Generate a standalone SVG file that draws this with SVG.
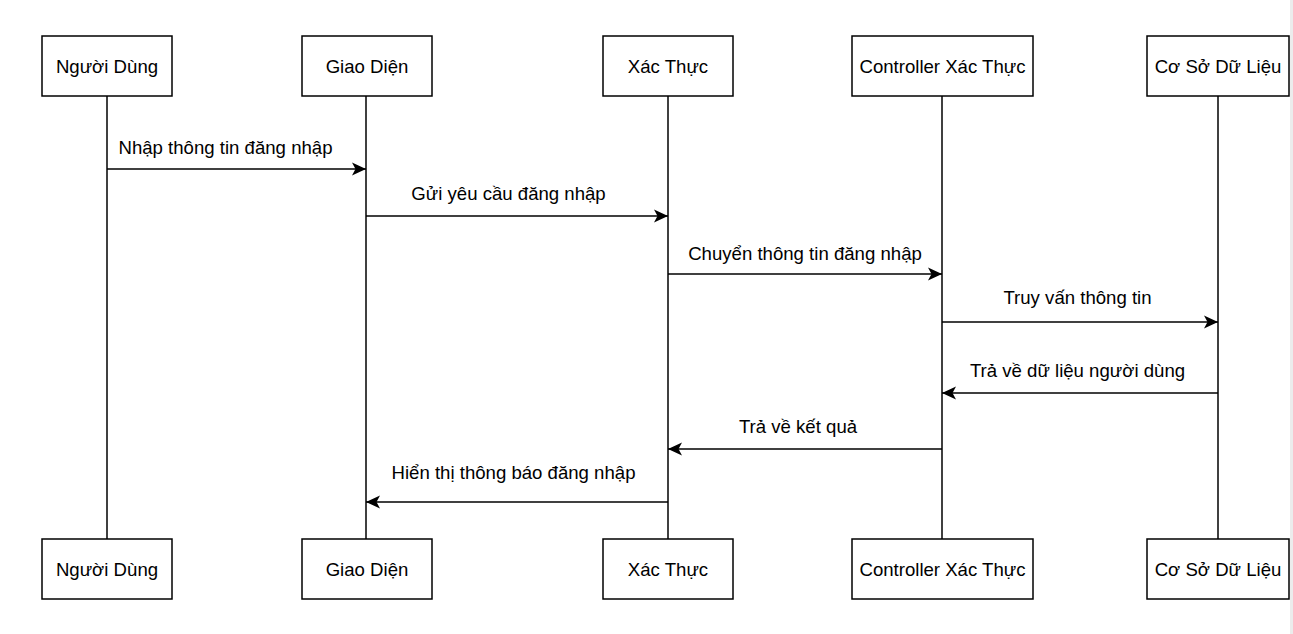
<svg xmlns="http://www.w3.org/2000/svg" width="1293" height="634" viewBox="0 0 1293 634">
<style>
.box{fill:#fff;stroke:#000;stroke-width:1.5}
.life{stroke:#000;stroke-width:1.5;fill:none}
.msg{stroke:#000;stroke-width:1.5;fill:none}
.t{font-family:"Liberation Sans",Arial,sans-serif;font-size:18.6px;fill:#000;text-anchor:middle}
</style>
<defs>
<marker id="ah" markerUnits="userSpaceOnUse" markerWidth="16" markerHeight="14" viewBox="-15 -7 16 14" refX="0" refY="0" orient="auto">
<path d="M0,0 L-14,-6.5 L-10.5,0 L-14,6.5 Z" fill="#000"/>
</marker>
</defs>
<rect x="0" y="0" width="1293" height="634" fill="#fff"/>
<rect x="1290" y="0" width="3" height="634" fill="#ececec"/>
<g id="lifelines">
<line class="life" x1="107" y1="96" x2="107" y2="539"/>
<line class="life" x1="366" y1="96" x2="366" y2="539"/>
<line class="life" x1="668" y1="96" x2="668" y2="539"/>
<line class="life" x1="942" y1="96" x2="942" y2="539"/>
<line class="life" x1="1218" y1="96" x2="1218" y2="539"/>
</g>
<g id="nguoidung">
<rect class="box" x="42" y="36" width="130" height="60"/>
<text class="t" x="107" y="73">Người Dùng</text>
<rect class="box" x="42" y="539" width="130" height="60"/>
<text class="t" x="107" y="576">Người Dùng</text>
</g>
<g id="giaodien">
<rect class="box" x="302" y="36" width="130" height="60"/>
<text class="t" x="367" y="73">Giao Diện</text>
<rect class="box" x="302" y="539" width="130" height="60"/>
<text class="t" x="367" y="576">Giao Diện</text>
</g>
<g id="xacthuc">
<rect class="box" x="603" y="36" width="130" height="60"/>
<text class="t" x="668" y="73">Xác Thực</text>
<rect class="box" x="603" y="539" width="130" height="60"/>
<text class="t" x="668" y="576">Xác Thực</text>
</g>
<g id="controller">
<rect class="box" x="852" y="36" width="181" height="60"/>
<text class="t" x="942.5" y="73">Controller Xác Thực</text>
<rect class="box" x="852" y="539" width="181" height="60"/>
<text class="t" x="942.5" y="576">Controller Xác Thực</text>
</g>
<g id="csdl">
<rect class="box" x="1147" y="36" width="142" height="60"/>
<text class="t" x="1218" y="73">Cơ Sở Dữ Liệu</text>
<rect class="box" x="1147" y="539" width="142" height="60"/>
<text class="t" x="1218" y="576">Cơ Sở Dữ Liệu</text>
</g>
<g id="connectors">
<line class="msg" x1="107" y1="169" x2="366" y2="169" marker-end="url(#ah)"/>
<text class="t" x="225.5" y="154">Nhập thông tin đăng nhập</text>
<line class="msg" x1="366" y1="216" x2="668" y2="216" marker-end="url(#ah)"/>
<text class="t" x="508.5" y="199.5">Gửi yêu cầu đăng nhập</text>
<line class="msg" x1="668" y1="274" x2="942" y2="274" marker-end="url(#ah)"/>
<text class="t" x="805" y="259.5">Chuyển thông tin đăng nhập</text>
<line class="msg" x1="942" y1="322" x2="1218" y2="322" marker-end="url(#ah)"/>
<text class="t" x="1077.5" y="303.5">Truy vấn thông tin</text>
<line class="msg" x1="1218" y1="393" x2="942" y2="393" marker-end="url(#ah)"/>
<text class="t" x="1077.5" y="376.5">Trả về dữ liệu người dùng</text>
<line class="msg" x1="942" y1="449" x2="668" y2="449" marker-end="url(#ah)"/>
<text class="t" x="798" y="432.5">Trả về kết quả</text>
<line class="msg" x1="668" y1="502" x2="366" y2="502" marker-end="url(#ah)"/>
<text class="t" x="513.5" y="479">Hiển thị thông báo đăng nhập</text>
</g>
</svg>
